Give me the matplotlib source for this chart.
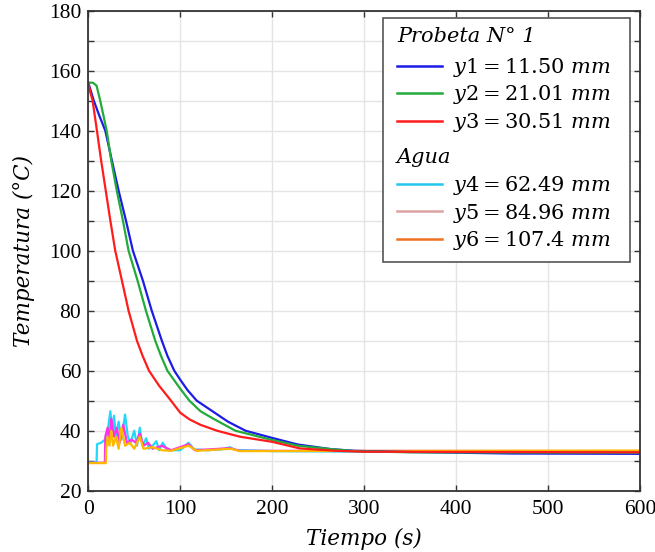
import numpy as np
import matplotlib
matplotlib.use('Agg')
import matplotlib.pyplot as plt
from matplotlib.lines import Line2D
from matplotlib.patches import Rectangle

plt.rcParams['mathtext.fontset'] = 'dejavuserif'
plt.rcParams['font.family'] = 'Liberation Serif'

# --- data ---
t_y1 = [0, 3, 6, 12, 18.5, 25.7, 33, 41, 48.5, 59.4, 69, 80, 86, 93.5, 100, 108, 118, 136, 152, 171,
        200, 228, 263, 289, 350, 460, 600]
T_y1 = [156, 153, 150, 145, 140, 130, 120, 110, 100, 90, 80, 70, 65, 60, 57, 53.5, 50, 46.3, 43, 40,
        37.6, 35.4, 33.9, 33.3, 32.9, 32.4, 32.3]

t_y2 = [0, 5, 9, 13, 20, 25, 31, 37.7, 43.8, 53.6, 62.7, 72.8, 79, 86, 100, 110, 122, 136, 160,
        200, 228, 263, 290, 350, 600]
T_y2 = [156, 156, 155, 150, 140, 130, 120, 110, 100, 90, 80, 70, 65, 60, 54, 50, 46.5, 44, 40,
        36.9, 35, 33.9, 33.2, 32.8, 32.7]

t_y3 = [0, 2, 4.7, 9.4, 14, 19, 24, 29.3, 36.6, 43.8, 52.9, 59, 66, 77, 90, 100, 110, 121.7, 140,
        165, 200, 230, 270, 300, 600]
T_y3 = [156, 153, 150, 140, 130, 120, 110, 100, 90, 80, 70, 65, 60, 55, 50, 46, 43.8, 42, 40,
        38, 36.3, 34.1, 33.3, 33, 32.8]

t_y4 = [0, 9, 9.5, 14, 18, 20, 22, 24, 26, 28, 30, 33, 36, 40, 43, 46, 50, 53, 56, 59, 63, 66,
        70, 74, 77, 81, 85, 90, 100, 109, 115, 130, 145, 154, 160, 200, 300, 600]
T_y4 = [29.4, 29.4, 35.5, 36, 37, 36, 42, 46.5, 40, 45, 38, 43, 37, 45.4, 38, 36, 40, 35, 41, 35, 37.5, 34,
        35, 36.5, 33.5, 36, 34, 33.5, 33.5, 36, 33.8, 33.5, 33.8, 34.5, 33.6, 33.2, 33, 33]

t_y5 = [0, 18, 18.5, 21, 23, 25, 28, 31, 34, 38, 42, 47, 52, 56, 60, 65, 70, 80, 90, 109, 116, 154, 165, 600]
T_y5 = [29.3, 29.3, 38, 41, 37, 44, 38, 41, 36, 42, 36, 37, 36, 39, 35, 36, 34, 35, 33.5, 35.5, 33.5, 34.2, 33.3, 33.2]

t_y6 = [0, 19, 19.5, 21, 23, 25, 27, 30, 33, 36, 40, 45, 50, 56, 60, 70, 80, 90, 109, 118, 155, 165, 600]
T_y6 = [29.2, 29.2, 34, 38, 35, 40, 35, 38, 34, 41, 35, 36, 34, 38, 34, 34.5, 33.5, 33.3, 35, 33.3, 34, 33.2, 33.4]

labels_probeta = [r'$y1 = 11.50\ mm$', r'$y2 = 21.01\ mm$', r'$y3 = 30.51\ mm$']
labels_agua = [r'$y4 = 62.49\ mm$', r'$y5 = 84.96\ mm$', r'$y6 = 107.4\ mm$']

fig = plt.figure(figsize=(6.55, 5.52), dpi=100)
ax = fig.add_axes([0.1348, 0.111, 0.8423, 0.8696])

# water sensors first (drawn below)
ax.plot(t_y4, T_y4, color='#22d8f8', lw=1.6)
ax.plot(t_y5, T_y5, color='#ff30e8', lw=1.6)
ax.plot(t_y6, T_y6, color='#ffb800', lw=1.6)
ax.plot(t_y1, T_y1, color='#1c1ce6', lw=1.6)
ax.plot(t_y2, T_y2, color='#22aa3a', lw=1.6)
ax.plot(t_y3, T_y3, color='#ff1c1c', lw=1.6)

ax.set_xlim(0, 600)
ax.set_ylim(20, 180)
ax.set_xticks(np.arange(0, 601, 100))
ax.set_yticks(np.arange(20, 181, 20))
ax.set_yticks(np.arange(30, 180, 20), minor=True)
ax.grid(True, which='both', axis='y', color='#e4e4e4', lw=1)
ax.grid(True, which='major', axis='x', color='#e4e4e4', lw=1)
ax.set_axisbelow(True)
ax.tick_params(which='both', direction='in', top=True, right=True, length=4,
               width=1, labelsize=15.5, color='#333333')
ax.tick_params(axis='x', pad=7)
ax.tick_params(axis='y', pad=5)
for s in ax.spines.values():
    s.set_linewidth(1.3)
    s.set_color('#333333')

ax.set_xlabel('Tiempo (s)', fontsize=15.5, family='DejaVu Serif', style='italic', labelpad=6)
ax.set_ylabel('Temperatura (°C)', fontsize=15.5, family='DejaVu Serif', style='italic', labelpad=10)

# legend: two groups inside one frame
box = Rectangle((0.534, 0.476), 0.448, 0.509, transform=ax.transAxes, fill=True,
                facecolor='white', edgecolor='#555555', lw=1.2, zorder=4)
ax.add_patch(box)
title_kw = dict(transform=ax.transAxes, family='DejaVu Serif', style='italic', fontsize=15,
                ha='left', va='center', zorder=6)
ax.text(0.5595, 0.947, 'Probeta N° 1', **title_kw)
ax.text(0.5595, 0.695, 'Agua', **title_kw)

h1 = [Line2D([], [], color=c, lw=1.8) for c in ['#1c1ce6', '#22aa3a', '#ff1c1c']]
h2 = [Line2D([], [], color=c, lw=1.8) for c in ['#22c8f0', '#dca2a2', '#ee7020']]
common = dict(loc='center left', frameon=False, fontsize=15, handlelength=2.15,
              handletextpad=0.55, labelspacing=0.22, borderpad=0, borderaxespad=0)
leg1 = ax.legend(h1, labels_probeta, bbox_to_anchor=(0.5595, 0.8245), **common)
ax.add_artist(leg1)
leg2 = ax.legend(h2, labels_agua, bbox_to_anchor=(0.5595, 0.5785), **common)
leg1.set_zorder(5)
leg2.set_zorder(5)

fig.savefig('out.png', dpi=100)
